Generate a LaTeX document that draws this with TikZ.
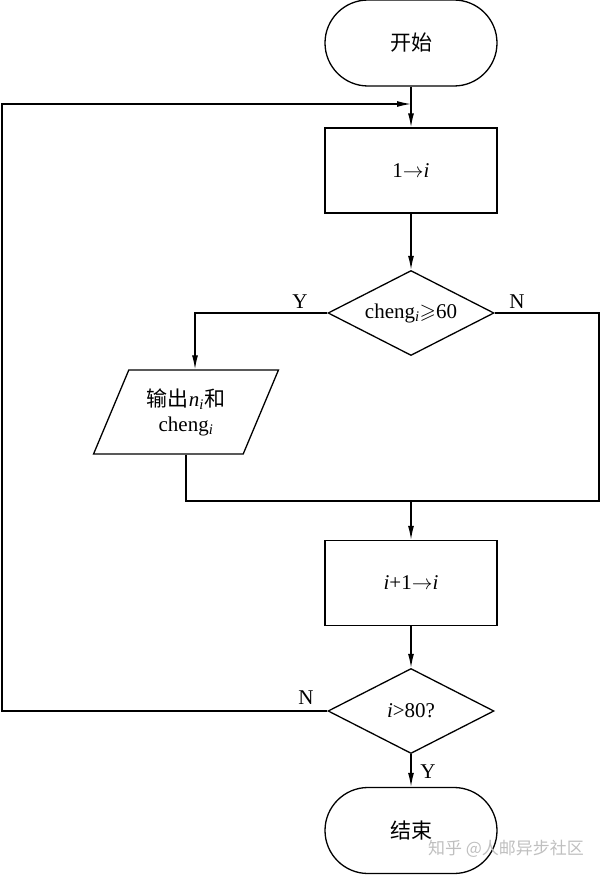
\documentclass[tikz,border=0pt]{standalone}
\usepackage{amsmath, amssymb}
\usepackage{fontspec}
\setmainfont{Liberation Serif}
\newfontfamily\cjk{Noto Sans CJK SC}
\usetikzlibrary{shapes.geometric, arrows.meta, calc}

\begin{document}
\begin{tikzpicture}[x=1pt, y=-1pt,
		font=\fontsize{21}{25}\selectfont,
		line width=1.3pt,
		term/.style={draw, rectangle, rounded corners=43pt, minimum width=172pt, minimum height=86pt, inner sep=0pt},
		proc/.style={draw, rectangle, minimum width=172pt, minimum height=85pt, inner sep=0pt},
		decide/.style={draw, diamond, aspect=1.95, minimum width=166pt, minimum height=85pt, inner sep=0pt},
		io/.style={draw, trapezium, trapezium left angle=63, trapezium right angle=117, trapezium stretches=true, minimum width=185pt, minimum height=84pt, inner sep=0pt, align=center},
		arr/.style={-{Latex[length=14pt, width=6pt]}},
		yn/.style={font=\fontsize{21}{21}\selectfont}]
			\def\cx{411};
			\def\lx{2};
			\def\rx{599};
			
			\useasboundingbox (0,0) rectangle (600,875);
			
			\node[term] (start) at (\cx,43) {\cjk 开始};
			\node[proc] (init) at (\cx,170.5) {1$\rightarrow$\textit{i}};
			\node[decide] (chk) at (\cx,313) {cheng\textsubscript{\textit{i}}$\geqslant$60};
			\node[io] (out) at (186,412) {{\cjk 输出}\textit{n}\textsubscript{\textit{i}}{\cjk 和}\\cheng\textsubscript{\textit{i}}};
			\node[proc] (inc) at (\cx,583) {\textit{i}+1$\rightarrow$\textit{i}};
			\node[decide] (last) at (\cx,711) {\textit{i}>80?};
			\node[term] (stop) at (\cx,830.5) {\cjk 结束};
			
			\coordinate (loop) at (\cx,104);
			\coordinate (merge) at (\cx,501);
			\coordinate (rgt) at (\rx,501);
			\coordinate (lft) at (\lx,711);
			
			\draw[arr] (start) -- (init);
			\draw[arr] (init) -- (chk);
			\draw[arr] (chk.west) -| ([xshift=9pt]out.north);
			\draw (chk.east) -| (rgt) -- (merge);
			\draw (out.south) |- (merge);
			\draw[arr] (merge) -- (inc);
			\draw[arr] (inc) -- (last);
			\draw[arr] (last) -- (stop);
			\draw[arr] (last.west) -- (lft) |- (loop);
			
			\node[yn] (y1) at (300,302) {Y};
			\node[yn] (n1) at (517,302) {N};
			\node[yn] (n2) at (306,698) {N};
			\node[yn] (y2) at (428,772) {Y};
			
			\node[text=black!25, font=\cjk\fontsize{17}{17}\selectfont] (mark) at (506,849) {知乎 @人邮异步社区};
		\end{tikzpicture}
\end{document}
